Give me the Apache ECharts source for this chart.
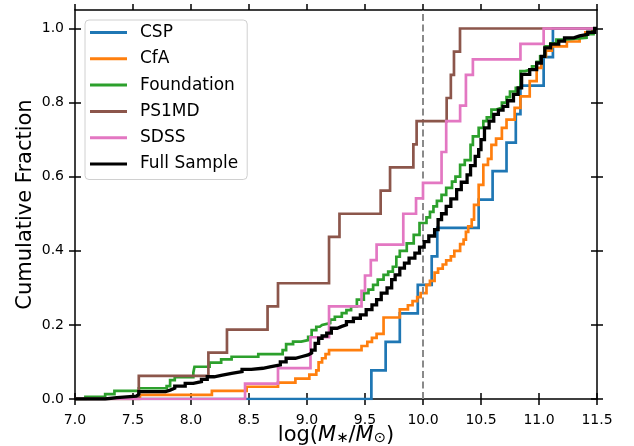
<!DOCTYPE html>
<html>
<head>
<meta charset="utf-8">
<script src="https://cdn.jsdelivr.net/npm/echarts@6/dist/echarts.min.js"></script>
<style>
  html, body { margin: 0; padding: 0; background: #ffffff; }
  #chart { width: 634px; height: 446px; }
</style>
</head>
<body>
<div id="chart"></div>
<script>
// Axis ranges and reference values
const massRange = [7.0, 11.5];
const massTickStep = 0.5;
const fracTicks = [0, 0.2, 0.4, 0.6, 0.8, 1.0];
const fracMax = 1.05;
const massSplit = 10.0;

// Cumulative host-mass distributions: host mass where each step occurs, and the fraction reached there
const cspMass = [9.555, 9.678, 9.80, 9.955, 10.075, 10.123, 10.48, 10.60, 10.72, 10.80, 10.84, 11.04, 11.12];
const cspFrac = [0.077, 0.154, 0.231, 0.308, 0.385, 0.462, 0.538, 0.615, 0.692, 0.769, 0.846, 0.923, 1.0];

const cfaMass = [7.56, 8.18, 8.48, 8.75, 8.90, 9.02, 9.08, 9.10, 9.13, 9.16, 9.19, 9.47, 9.52, 9.56, 9.60, 9.66,
  9.80, 9.87, 9.91, 9.95, 9.98, 10.03, 10.06, 10.10, 10.13, 10.17, 10.20, 10.24, 10.27, 10.32, 10.35, 10.37,
  10.39, 10.42, 10.44, 10.48, 10.52, 10.56, 10.59, 10.63, 10.68, 10.72, 10.79, 10.84, 10.92, 10.98, 11.02,
  11.06, 11.11, 11.24, 11.35, 11.40, 11.46];
const cfaFrac = [0.011, 0.022, 0.033, 0.044, 0.055, 0.066, 0.077, 0.099, 0.110, 0.121, 0.132, 0.143, 0.154, 0.165, 0.176, 0.220,
  0.242, 0.253, 0.264, 0.275, 0.286, 0.308, 0.319, 0.341, 0.352, 0.363, 0.374, 0.385, 0.400, 0.418, 0.430, 0.451,
  0.466, 0.484, 0.524, 0.578, 0.632, 0.648, 0.686, 0.703, 0.732, 0.754, 0.786, 0.817, 0.858, 0.894, 0.925,
  0.940, 0.952, 0.965, 0.978, 0.990, 1.0];

const foundMass = [7.09, 7.26, 7.34, 7.55, 7.79, 7.82, 7.86, 8.02, 8.03, 8.16, 8.26, 8.35, 8.58, 8.79, 8.82, 8.88,
  8.95, 9.01, 9.04, 9.08, 9.11, 9.13, 9.20, 9.24, 9.30, 9.34, 9.38, 9.43, 9.49, 9.53, 9.57, 9.61, 9.66, 9.70,
  9.74, 9.77, 9.80, 9.86, 9.92, 9.97, 10.03, 10.06, 10.09, 10.12, 10.16, 10.20, 10.25, 10.28, 10.32, 10.36,
  10.41, 10.43, 10.48, 10.52, 10.55, 10.59, 10.63, 10.68, 10.72, 10.75, 10.80, 10.84, 10.88, 10.94, 10.98,
  11.01, 11.05, 11.10, 11.15, 11.21, 11.41, 11.47];
const foundFrac = [0.006, 0.013, 0.022, 0.029, 0.035, 0.051, 0.059, 0.071, 0.087, 0.098, 0.107, 0.114, 0.121, 0.132, 0.148, 0.155,
  0.159, 0.168, 0.186, 0.195, 0.200, 0.205, 0.214, 0.222, 0.232, 0.240, 0.250, 0.268, 0.286, 0.295, 0.308, 0.322, 0.335, 0.344,
  0.357, 0.384, 0.400, 0.420, 0.443, 0.475, 0.490, 0.505, 0.520, 0.535, 0.551, 0.570, 0.587, 0.600, 0.632, 0.645,
  0.686, 0.709, 0.732, 0.750, 0.760, 0.781, 0.786, 0.800, 0.815, 0.830, 0.840, 0.885, 0.890, 0.898, 0.910,
  0.925, 0.952, 0.960, 0.970, 0.975, 0.985, 1.0];

const ps1Mass = [7.55, 8.15, 8.31, 8.66, 8.75, 9.19, 9.28, 9.635, 9.716, 9.917, 9.945, 10.204, 10.24, 10.267, 10.319];
const ps1Frac = [0.0625, 0.125, 0.1875, 0.25, 0.3125, 0.4375, 0.5, 0.5625, 0.625, 0.6875, 0.75, 0.8125, 0.875, 0.9375, 1.0];

const sdssMass = [8.466, 8.75, 9.03, 9.19, 9.47, 9.50, 9.55, 9.60, 9.83, 9.94, 10.0, 10.16, 10.20, 10.32, 10.37, 10.43, 10.84, 11.04];
const sdssFrac = [0.0417, 0.0833, 0.1667, 0.25, 0.2917, 0.3333, 0.375, 0.4167, 0.5, 0.5417, 0.5833, 0.6667, 0.75, 0.7917, 0.875, 0.9167, 0.9583, 1.0];

const fullMass = [7.26, 7.36, 7.53, 7.55, 7.78, 7.82, 7.86, 7.95, 8.02, 8.09, 8.14, 8.20, 8.26, 8.35, 8.44, 8.52,
  8.62, 8.68, 8.77, 8.82, 8.90, 8.95, 9.01, 9.04, 9.07, 9.10, 9.13, 9.17, 9.21, 9.26, 9.30, 9.34, 9.40, 9.46,
  9.51, 9.56, 9.60, 9.64, 9.69, 9.73, 9.76, 9.80, 9.84, 9.88, 9.93, 9.97, 10.01, 10.05, 10.10, 10.13, 10.16,
  10.20, 10.24, 10.29, 10.33, 10.38, 10.41, 10.45, 10.48, 10.50, 10.53, 10.57, 10.61, 10.65, 10.69, 10.73,
  10.78, 10.82, 10.85, 10.92, 10.98, 11.02, 11.05, 11.10, 11.17, 11.22, 11.30, 11.35, 11.42, 11.48];
const fullFrac = [0.004, 0.008, 0.013, 0.020, 0.024, 0.029, 0.035, 0.042, 0.047, 0.053, 0.060, 0.064, 0.069, 0.074, 0.080, 0.083,
  0.087, 0.092, 0.100, 0.110, 0.114, 0.119, 0.124, 0.132, 0.150, 0.164, 0.170, 0.178, 0.191, 0.196, 0.200, 0.209, 0.218, 0.227,
  0.241, 0.254, 0.268, 0.286, 0.300, 0.322, 0.335, 0.353, 0.367, 0.380, 0.394, 0.410, 0.425, 0.440, 0.457, 0.484, 0.500,
  0.520, 0.540, 0.565, 0.585, 0.605, 0.630, 0.655, 0.673, 0.700, 0.732, 0.750, 0.768, 0.780, 0.790, 0.805,
  0.822, 0.840, 0.876, 0.889, 0.907, 0.925, 0.948, 0.958, 0.966, 0.975, 0.980, 0.984, 0.990, 1.0];

const surveyNames = ['CSP', 'CfA', 'Foundation', 'PS1MD', 'SDSS', 'Full Sample'];
const surveyMass = [cspMass, cfaMass, foundMass, ps1Mass, sdssMass, fullMass];
const surveyFrac = [cspFrac, cfaFrac, foundFrac, ps1Frac, sdssFrac, fullFrac];

// Styling
const palette = ['#1f77b4', '#ff7f0e', '#2ca02c', '#8c564b', '#e377c2', '#000000'];
const lineWidths = [2.7, 2.7, 2.7, 2.7, 2.7, 3.3];
const FONT = 'DejaVu Sans';

// Build step-curve points: zero at the low end of the range, held at the final fraction to the high end
function cdfPoints(mass, frac) {
  const pts = [[massRange[0], 0]];
  for (let i = 0; i < mass.length; i++) pts.push([mass[i], frac[i]]);
  pts.push([massRange[1], frac[frac.length - 1]]);
  return pts;
}

const spine = { show: true, onZero: false, lineStyle: { color: '#000', width: 1.5 } };
const tickOut = { show: true, inside: false, length: 6, lineStyle: { color: '#000', width: 1.5 } };
const tickIn = { show: true, inside: true, length: 6, lineStyle: { color: '#000', width: 1.5 } };

function massAxis(position, withLine, tick, labels) {
  return {
    type: 'value', position: position, min: massRange[0], max: massRange[1], interval: massTickStep,
    axisLine: withLine ? spine : { show: false },
    axisTick: tick,
    splitLine: { show: false },
    axisLabel: labels ? {
      show: true, margin: 14, color: '#000', fontFamily: FONT, fontSize: 14,
      formatter: v => v.toFixed(1)
    } : { show: false }
  };
}

function fracAxis(position, withLine, tick, labels) {
  return {
    type: 'value', position: position, min: 0, max: fracMax, interval: 0.2,
    axisLine: withLine ? spine : { show: false },
    axisTick: Object.assign({ customValues: fracTicks }, tick),
    splitLine: { show: false },
    axisLabel: labels ? {
      show: true, margin: 11, color: '#000', fontFamily: FONT, fontSize: 14,
      customValues: fracTicks,
      formatter: v => v.toFixed(1)
    } : { show: false }
  };
}

const xAxes = [
  massAxis('bottom', true, tickOut, true),
  massAxis('bottom', false, tickIn, false),
  massAxis('top', true, tickOut, false),
  massAxis('top', false, tickIn, false)
];
xAxes[0].name = '{n|log(}{i|M}{s|∗}{n|/}{i|M}{s|⊙}{n|)}';
xAxes[0].nameLocation = 'middle';
xAxes[0].nameGap = 26;
xAxes[0].nameMoveOverlap = false;
xAxes[0].nameTextStyle = {
  color: '#000', fontFamily: FONT, fontSize: 21,
  rich: {
    n: { fontFamily: FONT, fontSize: 21, color: '#000', lineHeight: 26, verticalAlign: 'top' },
    i: { fontFamily: FONT, fontSize: 21, color: '#000', fontStyle: 'italic', lineHeight: 26, verticalAlign: 'top' },
    s: { fontFamily: FONT, fontSize: 14.7, color: '#000', lineHeight: 26, verticalAlign: 'top', padding: [6, 0, 0, 0] }
  }
};

const yAxes = [
  fracAxis('left', true, tickOut, true),
  fracAxis('left', false, tickIn, false),
  fracAxis('right', true, tickOut, false),
  fracAxis('right', false, tickIn, false)
];
yAxes[0].name = 'Cumulative Fraction';
yAxes[0].nameLocation = 'middle';
yAxes[0].nameGap = 39;
yAxes[0].nameMoveOverlap = false;
yAxes[0].nameTextStyle = { color: '#000', fontFamily: FONT, fontSize: 21 };

const series = surveyNames.map((name, k) => ({
  name: name,
  type: 'line',
  step: 'end',
  xAxisIndex: 0,
  yAxisIndex: 0,
  data: cdfPoints(surveyMass[k], surveyFrac[k]),
  showSymbol: false,
  symbol: 'none',
  clip: true,
  lineStyle: { color: palette[k], width: lineWidths[k], cap: 'butt', join: 'miter' },
  itemStyle: { color: palette[k] },
  z: 2 + k
}));
// Dashed reference line at the mass split
series[0].markLine = {
  silent: true,
  symbol: ['none', 'none'],
  label: { show: false },
  lineStyle: { color: '#8a8a8a', width: 2, type: [7, 3.5] },
  data: [{ xAxis: massSplit }]
};

const chart = echarts.init(document.getElementById('chart'), null, { renderer: 'canvas' });
chart.setOption({
  animation: false,
  backgroundColor: '#ffffff',
  textStyle: { fontFamily: FONT },
  grid: { left: 75, right: 37, top: 10, bottom: 47, containLabel: false, outerBoundsMode: 'none' },
  legend: {
    data: surveyNames,
    orient: 'vertical',
    left: 85,
    top: 20,
    padding: [4, 9, 7, 5],
    itemGap: 9.3,
    itemWidth: 37,
    itemHeight: 3,
    icon: 'rect',
    borderColor: '#d0d0d0',
    borderWidth: 1,
    borderRadius: 4,
    backgroundColor: 'rgba(255,255,255,0.8)',
    textStyle: { color: '#000', fontFamily: FONT, fontSize: 17, lineHeight: 17, padding: [0, 0, 0, 8] },
    selectedMode: false
  },
  xAxis: xAxes,
  yAxis: yAxes,
  series: series
});
</script>
</body>
</html>
